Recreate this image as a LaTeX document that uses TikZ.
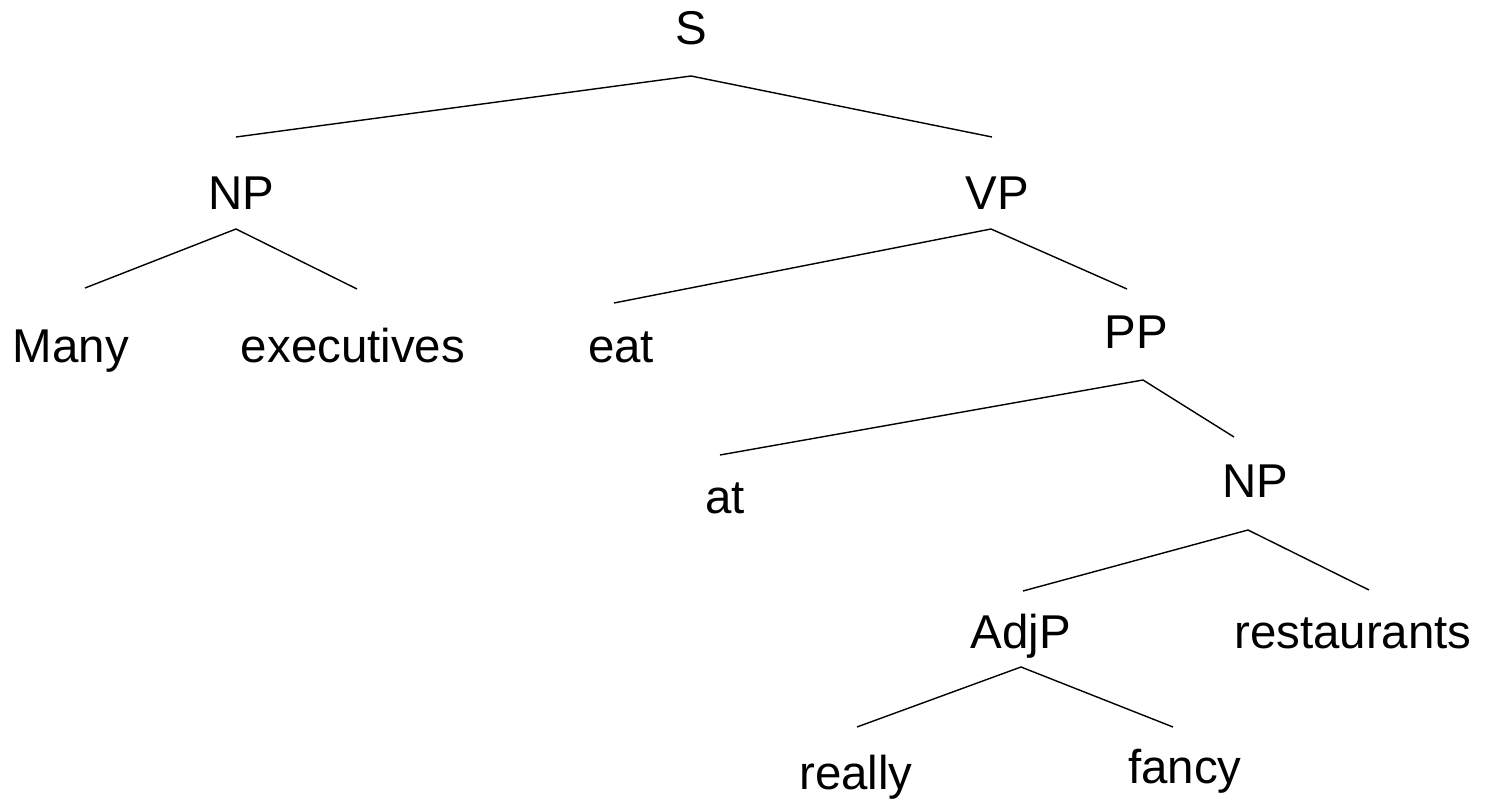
\documentclass[tikz,border=0pt]{standalone}
\usepackage{fontspec}
\setmainfont{Liberation Sans}
\begin{document}
\begin{tikzpicture}[scale=0.2]
\tikzstyle{every node}+=[inner sep=0pt, anchor=base, font=\fontsize{27}{32}\selectfont]
\tikzstyle{branch}=[black, line width=0.8pt]
\useasboundingbox (0,0) rectangle (148.5,-79.9);
% words and categories
\draw (69.1,-4.4) node (S) {S};
\draw (24.1,-20.9) node (NPa) {NP};
\draw (99.7,-20.9) node (VP) {VP};
\draw (7.1,-36.2) node (Many) {Many};
\draw (35.3,-36.2) node (exec) {executives};
\draw (62.1,-36.2) node (eat) {eat};
\draw (113.6,-34.8) node (PP) {PP};
\draw (72.5,-51.3) node (at) {at};
\draw (125.5,-49.7) node (NPb) {NP};
\draw (102.1,-64.8) node (AdjP) {AdjP};
\draw (135.3,-64.8) node (rest) {restaurants};
\draw (85.6,-78.9) node (really) {really};
\draw (118.5,-78.3) node (fancy) {fancy};
% branch ends
\coordinate (S-down) at (69.1,-7.6);
\coordinate (NPa-up) at (23.6,-13.7);
\coordinate (VP-up) at (99.2,-13.7);
\coordinate (NPa-down) at (23.6,-22.9);
\coordinate (Many-up) at (8.5,-28.8);
\coordinate (exec-up) at (35.7,-28.9);
\coordinate (VP-down) at (99.1,-22.9);
\coordinate (eat-up) at (61.4,-30.3);
\coordinate (PP-up) at (112.7,-28.9);
\coordinate (PP-down) at (114.3,-38.0);
\coordinate (at-up) at (72.0,-45.5);
\coordinate (NPb-up) at (123.4,-43.7);
\coordinate (NPb-down) at (124.8,-53.0);
\coordinate (AdjP-up) at (102.3,-59.1);
\coordinate (rest-up) at (136.9,-59.0);
\coordinate (AdjP-down) at (102.1,-66.7);
\coordinate (really-up) at (85.7,-72.7);
\coordinate (fancy-up) at (117.3,-72.7);
% branches
\draw [branch] (NPa-up) -- (S-down) -- (VP-up);
\draw [branch] (Many-up) -- (NPa-down) -- (exec-up);
\draw [branch] (eat-up) -- (VP-down) -- (PP-up);
\draw [branch] (at-up) -- (PP-down) -- (NPb-up);
\draw [branch] (AdjP-up) -- (NPb-down) -- (rest-up);
\draw [branch] (really-up) -- (AdjP-down) -- (fancy-up);
\end{tikzpicture}
\end{document}
